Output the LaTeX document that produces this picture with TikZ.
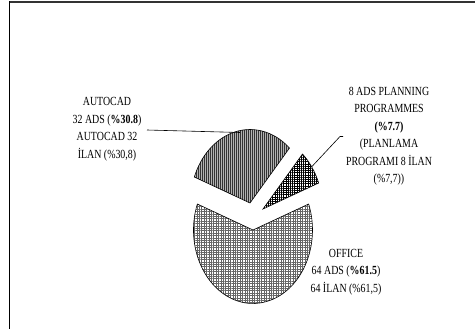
\documentclass[tikz,border=0pt]{standalone}
\usepackage{fontspec}
\setmainfont{Liberation Serif}[FakeStretch=0.8]
\usetikzlibrary{patterns.meta,calc}
\begin{document}
\begin{tikzpicture}[x=1pt,y=-1pt,
  lbl/.style={align=center,inner sep=0pt,font=\fontsize{12.4}{17.5}\selectfont},
  slice/.style={draw=black,line width=0.6pt},
  leader/.style={draw=black,line width=0.6pt}]
\useasboundingbox (0,0) rectangle (475,329);
% frame
\draw[line width=2pt,black!80] (9,2.5) -- (475,2.5);
\draw[line width=1.4pt,black] (9.7,1.5) -- (9.7,329);
% apexes
\coordinate (oc) at (253,230);
\coordinate (ac) at (250,203);
\coordinate (pc) at (263,209);
\def\rx{59.5}\def\ry{73.5}
% Office
\path[preaction={fill=white},pattern={Hatch[angle=0,distance=2.4pt,line width=0.25pt]},pattern color=black!60]
  (oc) -- ($(oc)+({\rx*cos(159.3)},{-\ry*sin(159.3)})$)
  arc[start angle=-159.3,end angle=-380.7,x radius=\rx,y radius=\ry] -- cycle;
\draw[slice] (oc) -- ($(oc)+({\rx*cos(159.3)},{-\ry*sin(159.3)})$)
  arc[start angle=-159.3,end angle=-380.7,x radius=\rx,y radius=\ry] -- cycle;
% Autocad
\path[preaction={fill=black!30},pattern={Lines[angle=90,distance=2pt,line width=0.6pt]},pattern color=black!80]
  (ac) -- ($(ac)+({\rx*cos(48.4)},{-\ry*sin(48.4)})$)
  arc[start angle=-48.4,end angle=-159.3,x radius=\rx,y radius=\ry] -- cycle;
\draw[slice] (ac) -- ($(ac)+({\rx*cos(48.4)},{-\ry*sin(48.4)})$)
  arc[start angle=-48.4,end angle=-159.3,x radius=\rx,y radius=\ry] -- cycle;
% Planning
\path[preaction={fill=white},pattern={Hatch[angle=0,distance=2.2pt,line width=0.8pt]},pattern color=black]
  (pc) -- ($(pc)+({\rx*cos(20.7)},{-\ry*sin(20.7)})$)
  arc[start angle=-20.7,end angle=-48.4,x radius=\rx,y radius=\ry] -- cycle;
\draw[slice] (pc) -- ($(pc)+({\rx*cos(20.7)},{-\ry*sin(20.7)})$)
  arc[start angle=-20.7,end angle=-48.4,x radius=\rx,y radius=\ry] -- cycle;
% labels
\node[lbl] (la) at (107,129) {AUTOCAD\\32 ADS (\textbf{\%30.8})\\AUTOCAD 32\\İLAN (\%30,8)};
\node[lbl] (lp) at (389,136) {8 ADS PLANNING\\PROGRAMMES\\\textbf{(\%7.7)}\\(PLANLAMA\\PROGRAMI 8 İLAN\\(\%7,7))};
\node[lbl] (lo) at (346,272) {OFFICE\\64 ADS (\textbf{\%61.5})\\64 İLAN (\%61,5)};
% leaders
\coordinate (a1) at (147,130);
\coordinate (a2) at (240,132.5);
\draw[leader] (a1) -- (a2);
\coordinate (p0) at (343,136.5);
\coordinate (p1) at (340,136.5);
\coordinate (p2) at (311.5,167);
\draw[leader] (p0) -- (p1) -- (p2);
\end{tikzpicture}
\end{document}
